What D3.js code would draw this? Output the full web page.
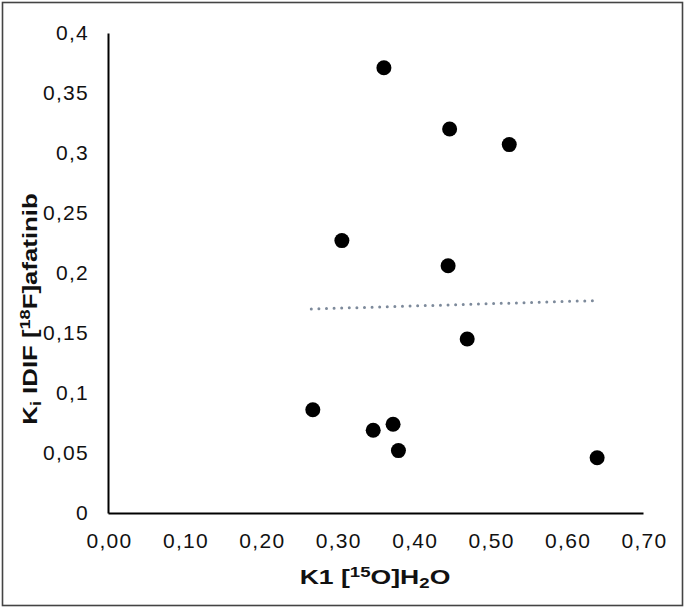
<!DOCTYPE html>
<html>
<head>
<meta charset="utf-8">
<script src="https://cdn.jsdelivr.net/npm/d3@7"></script>
<style>
  body { margin: 0; background: #fff; }
  svg { font-family: "Liberation Sans", Arial, sans-serif; }
</style>
</head>
<body>
<div id="chart"></div>
<script>
// K1 [15O]H2O values (x) and Ki IDIF [18F]afatinib values (y)
var k1Values = [0.361, 0.447, 0.525, 0.306, 0.445, 0.470, 0.268, 0.347, 0.373, 0.380, 0.640];
var kiValues = [0.371, 0.320, 0.307, 0.227, 0.206, 0.145, 0.086, 0.069, 0.074, 0.052, 0.046];

// linear trend line endpoints (as drawn)
var trendX = [0.266, 0.636];
var trendY = [0.170, 0.177];

var xTicks = [0, 0.1, 0.2, 0.3, 0.4, 0.5, 0.6, 0.7];
var yTicks = [0, 0.05, 0.1, 0.15, 0.2, 0.25, 0.3, 0.35, 0.4];

var points = k1Values.map((v, i) => ({k1: v, ki: kiValues[i]}));
var trend = trendX.map((v, i) => ({k1: v, ki: trendY[i]}));

var width = 685;
var height = 609;
var margin = ({top: 33, right: 42, bottom: 96, left: 108});

var locale = d3.formatLocale({decimal: ",", thousands: ".", grouping: [3], currency: ["", ""]});
var fmtX = locale.format(".2f");
var fmtY = locale.format("~f");

var x = d3.scaleLinear()
        .domain([0, 0.7])
        .range([margin.left, width - margin.right]);
var y = d3.scaleLinear()
        .domain([0, 0.4])
        .range([height - margin.bottom, margin.top]);

function drawChart() {
  const svg = d3.select('#chart')
      .append('svg')
      .attr('width', width)
      .attr('height', height);

  // outer frame
  svg.append('rect')
      .attr('x', 2.5).attr('y', 2.5)
      .attr('width', 680).attr('height', 603)
      .attr('fill', 'white')
      .attr('stroke', '#444')
      .attr('stroke-width', 1.6);

  // axes
  const xAxis = svg.append('g')
      .attr('transform', `translate(0, ${y(0)})`)
      .call(d3.axisBottom(x).tickValues(xTicks).tickFormat(fmtX).tickSize(0).tickPadding(20));
  xAxis.select('.domain').attr('stroke', '#000').attr('stroke-width', 2);

  const yAxis = svg.append('g')
      .attr('transform', `translate(${x(0)}, 0)`)
      .call(d3.axisLeft(y).tickValues(yTicks).tickFormat(fmtY).tickSize(0).tickPadding(19));
  yAxis.select('.domain').attr('stroke', '#000').attr('stroke-width', 2);

  svg.selectAll('.tick text')
      .attr('font-size', 21)
      .attr('letter-spacing', 1.3)
      .attr('fill', '#111')
      .attr('font-family', '"Liberation Sans", Arial, sans-serif');
  xAxis.selectAll('.tick text').attr('dy', '0.71em').attr('dx', 1);

  // trend line
  const line = d3.line()
      .x(d => x(d.k1))
      .y(d => y(d.ki));
  svg.append('path')
      .datum(trend)
      .attr('d', line)
      .attr('fill', 'none')
      .attr('stroke', '#7d8a9b')
      .attr('stroke-width', 3)
      .attr('stroke-linecap', 'round')
      .attr('stroke-dasharray', '0,7.6');

  // points
  svg.append('g')
    .selectAll('circle')
    .data(points)
    .join('circle')
      .attr('cx', d => x(d.k1))
      .attr('cy', d => y(d.ki))
      .attr('r', 7.5)
      .attr('fill', '#000');

  // x title
  const xt = svg.append('text')
      .attr('transform', 'translate(375, 584) scale(1.33, 1)')
      .attr('text-anchor', 'middle')
      .attr('font-size', 20)
      .attr('font-weight', 'bold')
      .attr('fill', '#111');
  xt.append('tspan').text('K1 [');
  xt.append('tspan').attr('font-size', 14).attr('dy', -7).text('15');
  xt.append('tspan').attr('dy', 7).text('O]H');
  xt.append('tspan').attr('font-size', 14).attr('dy', 4).text('2');
  xt.append('tspan').attr('dy', -4).text('O');

  // y title
  const yt = svg.append('text')
      .attr('transform', 'translate(37, 309) rotate(-90) scale(1.29, 1)')
      .attr('text-anchor', 'middle')
      .attr('font-size', 20)
      .attr('font-weight', 'bold')
      .attr('fill', '#111');
  yt.append('tspan').text('K');
  yt.append('tspan').attr('font-size', 14).attr('dy', 4).text('i');
  yt.append('tspan').attr('dy', -4).text(' IDIF [');
  yt.append('tspan').attr('font-size', 14).attr('dy', -7).text('18');
  yt.append('tspan').attr('dy', 7).text('F]afatinib');

  return svg.node();
}

window.onload = drawChart;
</script>
</body>
</html>
